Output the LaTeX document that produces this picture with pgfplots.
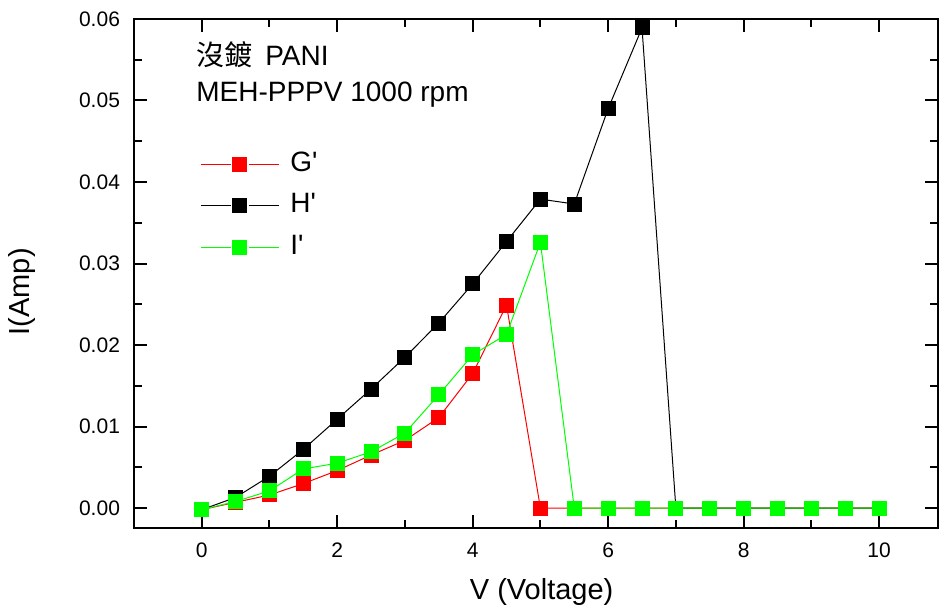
\documentclass[border=0pt]{standalone}
\usepackage{fontspec}
\setmainfont{Liberation Sans}
\newfontfamily\cjk{Noto Sans CJK TC}
\usepackage{pgfplots}
\usepackage{pgfplotstable}
\pgfplotsset{compat=1.18}
\definecolor{gr}{RGB}{0,255,0}
\definecolor{rd}{RGB}{255,0,0}
\pgfplotstableread{
x G H I
0    -0.0002 -0.0002 -0.0002
0.5  0.0007  0.0013  0.0008
1    0.0016  0.0039  0.0021
1.5  0.0030  0.0072  0.0048
2    0.0046  0.0109  0.0055
2.5  0.0065  0.0146  0.0069
3    0.0083  0.0185  0.0092
3.5  0.0111  0.0227  0.0139
4    0.0165  0.0275  0.0188
4.5  0.0249  0.0327  0.0213
5    0.0     0.0379  0.0326
5.5  0.0     0.0373  0.0
6    0.0     0.0490  0.0
6.5  0.0     0.0589  0.0
7    0.0     0.0     0.0
7.5  0.0     0.0     0.0
8    0.0     0.0     0.0
8.5  0.0     0.0     0.0
9    0.0     0.0     0.0
9.5  0.0     0.0     0.0
10   0.0     0.0     0.0
}\datatable
\begin{document}
\begin{tikzpicture}
\useasboundingbox (-67pt,-41.5pt) rectangle (403pt,264pt);
\begin{axis}[
  scale only axis, width=402pt, height=254.5pt,
  xmin=-1, xmax=10.87, ymin=-0.00245, ymax=0.06,
  xtick={0,2,4,6,8,10}, minor xtick={1,3,5,7,9},
  ytick={0,0.01,0.02,0.03,0.04,0.05,0.06},
  minor ytick={0.005,0.015,0.025,0.035,0.045,0.055},
  tick align=inside, major tick length=6.5pt, minor tick length=4pt,
  major tick style={line width=1pt,black}, minor tick style={line width=1pt,black},
  axis line style={line width=1pt},
  scaled y ticks=false,
  /pgf/number format/assume math mode=true,
  tick label style={font=\fontsize{10.5}{12}\selectfont},
  yticklabel style={/pgf/number format/.cd, fixed, fixed zerofill, precision=2, /tikz/.cd, xshift=-3.5pt},
  xticklabel style={yshift=-4pt},
  xlabel={V (Voltage)}, ylabel={I(Amp)},
  label style={font=\fontsize{14.5}{17}\selectfont},
  xlabel style={at={(axis description cs:0.507,-0.126)},anchor=center},
  ylabel style={at={(axis description cs:-0.139,0.464)},anchor=center},
  legend style={at={(axis description cs:0.082,0.7485)}, anchor=north west, draw=none, fill=none,
    font=\fontsize{14}{17}\selectfont, inner sep=0pt,
    nodes={inner sep=2pt, text height=10pt, text depth=3pt},
    row sep=3.75pt, column sep=3.5pt},
  legend cell align=left,
  legend image code/.code={%
    \draw[mark=none] (0pt,0pt) -- (15pt,0pt);
    \draw[mark=none] (24pt,0pt) -- (39pt,0pt);
    \draw[draw=none] plot coordinates {(19.5pt,0pt)};},
  every axis plot/.append style={line width=0.5pt},
]
\addplot[rd, mark=square*, mark size=3.5pt, mark options={fill=rd,draw=rd}] table[x=x,y=G] {\datatable};
\addlegendentry{G\textquotesingle}
\addplot[black, mark=square*, mark size=3.5pt, mark options={fill=black,draw=black}] table[x=x,y=H] {\datatable};
\addlegendentry{H\textquotesingle}
\addplot[gr, mark=square*, mark size=3.5pt, mark options={fill=gr,draw=gr}] table[x=x,y=I] {\datatable};
\addlegendentry{I\textquotesingle}
\node[anchor=base west, inner sep=0pt, font=\fontsize{14}{17}\selectfont] at (axis description cs:0.077,0.9096) {{\cjk 沒鍍}\hspace{6.5pt}PANI};
\node[anchor=base west, inner sep=0pt, font=\fontsize{14}{17}\selectfont] at (axis description cs:0.077,0.837) {MEH-PPPV 1000 rpm};
\end{axis}
\end{tikzpicture}
\end{document}
